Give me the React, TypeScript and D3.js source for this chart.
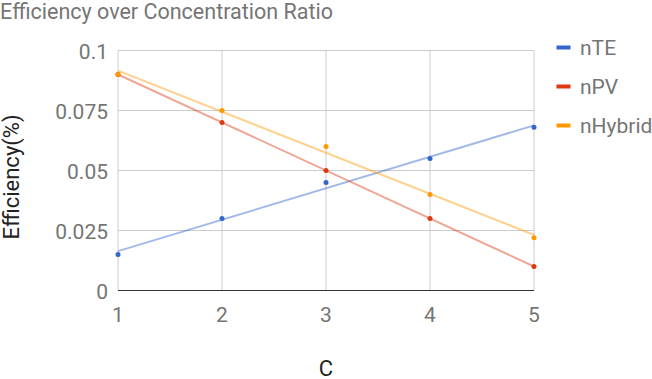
import React from "react";
import * as d3 from "d3";

const xValues = [1, 2, 3, 4, 5];
const nTE = [0.015, 0.03, 0.045, 0.055, 0.068];
const nPV = [0.09, 0.07, 0.05, 0.03, 0.01];
const nHybrid = [0.09, 0.075, 0.06, 0.04, 0.022];
const seriesNames = ["nTE", "nPV", "nHybrid"];
const seriesColors = ["#3366cc", "#dc3912", "#ff9900"];
const yTicks = [0, 0.025, 0.05, 0.075, 0.1];
const yTickLabels = ["0", "0.025", "0.05", "0.075", "0.1"];

const W = 652, H = 379;
const M = { left: 118, right: 534, top: 50.5, bottom: 290.5 };
const FONT = "Roboto, sans-serif";
const TEXT = "#757575";

function regress(xs: number[], ys: number[]) {
  const mx = d3.mean(xs)!, my = d3.mean(ys)!;
  let num = 0, den = 0;
  xs.forEach((x, i) => { num += (x - mx) * (ys[i] - my); den += (x - mx) ** 2; });
  const b = num / den;
  return { a: my - b * mx, b };
}

export default function App() {
  const x = d3.scaleLinear().domain([1, 5]).range([M.left, M.right]);
  const y = d3.scaleLinear().domain([0, 0.1]).range([M.bottom, M.top]);
  const data = [nTE, nPV, nHybrid];
  return (
    <svg width={W} height={H} style={{ position: "absolute", left: 0, top: 0, background: "#fff" }}>
      <text x={0} y={18.5} fontFamily={FONT} fontSize={21.5} fill={TEXT}>Efficiency over Concentration Ratio</text>
      {yTicks.map((t, i) => (
        <g key={"y" + i}>
          {t !== 0 && <line x1={M.left} x2={M.right} y1={y(t)} y2={y(t)} stroke="#cccccc" strokeWidth={1} />}
          <text x={108} y={y(t) + 8} textAnchor="end" fontFamily={FONT} fontSize={21} fill={TEXT}>{yTickLabels[i]}</text>
        </g>
      ))}
      {xValues.map((v) => (
        <g key={"x" + v}>
          <line x1={x(v)} x2={x(v)} y1={M.top} y2={M.bottom} stroke="#cccccc" strokeWidth={1} />
          <text x={x(v)} y={322} textAnchor="middle" fontFamily={FONT} fontSize={21} fill={TEXT}>{v}</text>
        </g>
      ))}
      <line x1={M.left} x2={M.right} y1={y(0)} y2={y(0)} stroke="#333333" strokeWidth={1} />
      {data.map((ys, si) => {
        const { a, b } = regress(xValues, ys);
        const x0 = 1, x1 = 5;
        return (
          <g key={"s" + si}>
            <line x1={x(x0)} y1={y(a + b * x0)} x2={x(x1)} y2={y(a + b * x1)} stroke={seriesColors[si]} strokeOpacity={0.45} strokeWidth={2} />
            {ys.map((v, i) => (
              <circle key={i} cx={x(xValues[i])} cy={y(v)} r={2.5} fill={seriesColors[si]} />
            ))}
          </g>
        );
      })}
      {seriesNames.map((n, i) => (
        <g key={"l" + n}>
          <rect x={556.5} y={47.5 + i * 39 - 2} width={14} height={4} fill={seriesColors[i]} />
          <text x={580} y={47.5 + i * 39 + 7.5} fontFamily={FONT} fontSize={21} fill={TEXT}>{n}</text>
        </g>
      ))}
      <text transform={`translate(19,177) rotate(-90)`} textAnchor="middle" fontFamily={FONT} fontSize={22} fill="#222">Efficiency(%)</text>
      <text x={x(3)} y={376} textAnchor="middle" fontFamily={FONT} fontSize={22} fill="#222">C</text>
    </svg>
  );
}
